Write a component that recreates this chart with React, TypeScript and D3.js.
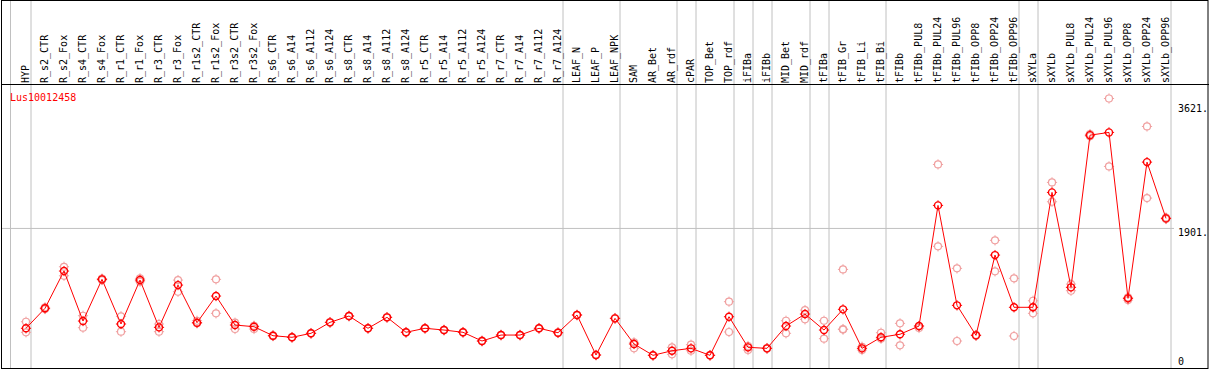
import React from "react";
import * as d3 from "d3";

const categories = [
  "HYP", "R_s2_CTR", "R_s2_Fox", "R_s4_CTR", "R_s4_Fox", "R_r1_CTR", "R_r1_Fox", "R_r3_CTR", "R_r3_Fox",
  "R_r1s2_CTR", "R_r1s2_Fox", "R_r3s2_CTR", "R_r3s2_Fox", "R_s6_CTR", "R_s6_A14", "R_s6_A112", "R_s6_A124",
  "R_s8_CTR", "R_s8_A14", "R_s8_A112", "R_s8_A124", "R_r5_CTR", "R_r5_A14", "R_r5_A112", "R_r5_A124",
  "R_r7_CTR", "R_r7_A14", "R_r7_A112", "R_r7_A124", "LEAF_N", "LEAF_P", "LEAF_NPK", "SAM", "AR_Bet", "AR_rdf",
  "cPAR", "TOP_Bet", "TOP_rdf", "iFIBa", "iFIBb", "MID_Bet", "MID_rdf", "tFIBa", "tFIB_Gr", "tFIB_Li", "tFIB_Bi",
  "tFIBb", "tFIBb_PUL8", "tFIBb_PUL24", "tFIBb_PUL96", "tFIBb_OPP8", "tFIBb_OPP24", "tFIBb_OPP96",
  "sXYLa", "sXYLb", "sXYLb_PUL8", "sXYLb_PUL24", "sXYLb_PUL96", "sXYLb_OPP8", "sXYLb_OPP24", "sXYLb_OPP96",
];

const means = [
  526, 801, 1314, 626, 1200, 585, 1190, 539, 1121, 603, 970, 571, 548, 424, 402, 457, 608,
  695, 526, 677, 471, 526, 502, 471, 351, 433, 433, 526, 465, 709, 158, 663, 310, 154, 217,
  250, 154, 685, 264, 250, 557, 722, 502, 787, 250, 402, 444, 557, 2218, 842, 429, 1534, 815,
  815, 2397, 1090, 3185, 3223, 938, 2814, 2039,
];

const rep1 = [
  616, 815, 1373, 699, 1210, 691, 1214, 585, 1190, 630, 1200, 603, 561, 430, 406, 461, 612,
  699, 530, 681, 475, 530, 506, 475, 355, 437, 437, 530, 469, 712, 160, 668, 333, 158, 264,
  300, 158, 892, 282, 254, 630, 777, 630, 1337, 272, 465, 594, 557, 2782, 1351, 435, 1737, 1214,
  905, 2535, 1135, 3200, 3690, 952, 3305, 2050,
];

const rep2 = [
  471, 791, 1249, 534, 1190, 479, 1167, 479, 1029, 594, 732, 516, 516, 418, 398, 453, 604,
  691, 522, 673, 467, 522, 498, 467, 347, 429, 429, 522, 461, 706, 156, 658, 250, 150, 168,
  217, 150, 475, 227, 246, 457, 649, 383, 516, 227, 383, 292, 530, 1654, 351, 423, 1310, 420,
  732, 2268, 1043, 3170, 2755, 915, 2319, 2030,
];

const extraReps = [{ category: "tFIB_Gr", value: 508 }, { category: "sXYLa", value: 815 }];

const groupEnds = [
  "HYP", "R_r7_A124", "LEAF_NPK", "AR_rdf", "cPAR", "TOP_rdf", "iFIBa", "iFIBb", "MID_rdf",
  "tFIBa", "tFIB_Bi", "tFIBb_OPP96", "sXYLa", "sXYLb_OPP96",
];

const yTicks = [
  { value: 3621, label: "3621.", grid: false },
  { value: 1901, label: "1901.", grid: true },
];

const geneName = "Lus10012458";

const W = 1209;
const H = 370;
const FONT = "'DejaVu Sans Mono', monospace";

function Marker({ cx, cy, color, sw }: { cx: number; cy: number; color: string; sw: number }) {
  const r = 3.5;
  const t = 1.6;
  return (
    <g>
      <circle cx={cx} cy={cy} r={r} fill="none" stroke={color} strokeWidth={sw} />
      <line x1={cx} y1={cy - r} x2={cx} y2={cy - r - t} stroke={color} strokeWidth={1} />
      <line x1={cx} y1={cy + r} x2={cx} y2={cy + r + t} stroke={color} strokeWidth={1} />
      <line x1={cx - r} y1={cy} x2={cx - r - t} y2={cy} stroke={color} strokeWidth={1} />
      <line x1={cx + r} y1={cy} x2={cx + r + t} y2={cy} stroke={color} strokeWidth={1} />
    </g>
  );
}

export default function App() {
  const x = d3.scalePoint<string>().domain(categories).range([26, 1166]);
  const y = d3.scaleLinear().domain([0, 3621]).range([366.5, 103.5]);

  const line = d3
    .line<number>()
    .x((_, i) => x(categories[i]) as number)
    .y((d) => y(d));

  const pink = "#f0a0a0";
  const red = "#ff0000";

  return (
    <svg
      width={W}
      height={H}
      style={{ position: "absolute", left: 0, top: 0, background: "#fff" }}
      fontFamily={FONT}
    >
      <rect x={0} y={0} width={W} height={H} fill="#fff" />
      {/* vertical separators */}
      <line x1={10.5} x2={10.5} y1={0} y2={369} stroke="#c0c0c0" strokeWidth={1} />
      {groupEnds.map((c) => {
        const xx = Math.round((x(c) as number) + 4.5) + 0.5;
        return <line key={c} x1={xx - 0.5} x2={xx - 0.5} y1={0} y2={369} stroke="#c0c0c0" strokeWidth={1} />;
      })}
      {/* horizontal grid */}
      {yTicks
        .filter((t) => t.grid)
        .map((t) => (
          <line key={t.value} x1={2} x2={1174} y1={y(t.value)} y2={y(t.value)} stroke="#c0c0c0" strokeWidth={1} />
        ))}
      {/* frame */}
      <rect x={1.5} y={0.5} width={1206.5} height={368} fill="none" stroke="#000" strokeWidth={1} />
      <line x1={1} x2={1209} y1={84.5} y2={84.5} stroke="#000" strokeWidth={1} />
      {/* category labels */}
      {categories.map((c) => {
        const cx = (x(c) as number) + 3.43;
        return (
          <text key={c} transform={`translate(${cx},83) rotate(-90)`} fontSize={10} fill="#000">
            {c}
          </text>
        );
      })}
      {/* y labels */}
      {yTicks.map((t) => (
        <text key={t.value} x={1178} y={y(t.value) + 8} fontSize={10} fill="#000">
          {t.label}
        </text>
      ))}
      <text x={1178} y={365} fontSize={10} fill="#000">0</text>
      {/* gene name */}
      <text x={10} y={100.5} fontSize={10} fill={red}>{geneName}</text>
      {/* replicates */}
      {categories.map((c, i) => (
        <g key={"r" + c}>
          <Marker cx={x(c) as number} cy={y(rep1[i])} color={pink} sw={1.2} />
          <Marker cx={x(c) as number} cy={y(rep2[i])} color={pink} sw={1.2} />
        </g>
      ))}
      {extraReps.map((r) => (
        <Marker key={"e" + r.category} cx={x(r.category) as number} cy={y(r.value)} color={pink} sw={1.2} />
      ))}
      {/* mean line */}
      <path d={line(means) as string} fill="none" stroke={red} strokeWidth={1} />
      {means.map((m, i) => (
        <Marker key={"m" + i} cx={x(categories[i]) as number} cy={y(m)} color={red} sw={1.4} />
      ))}
    </svg>
  );
}
